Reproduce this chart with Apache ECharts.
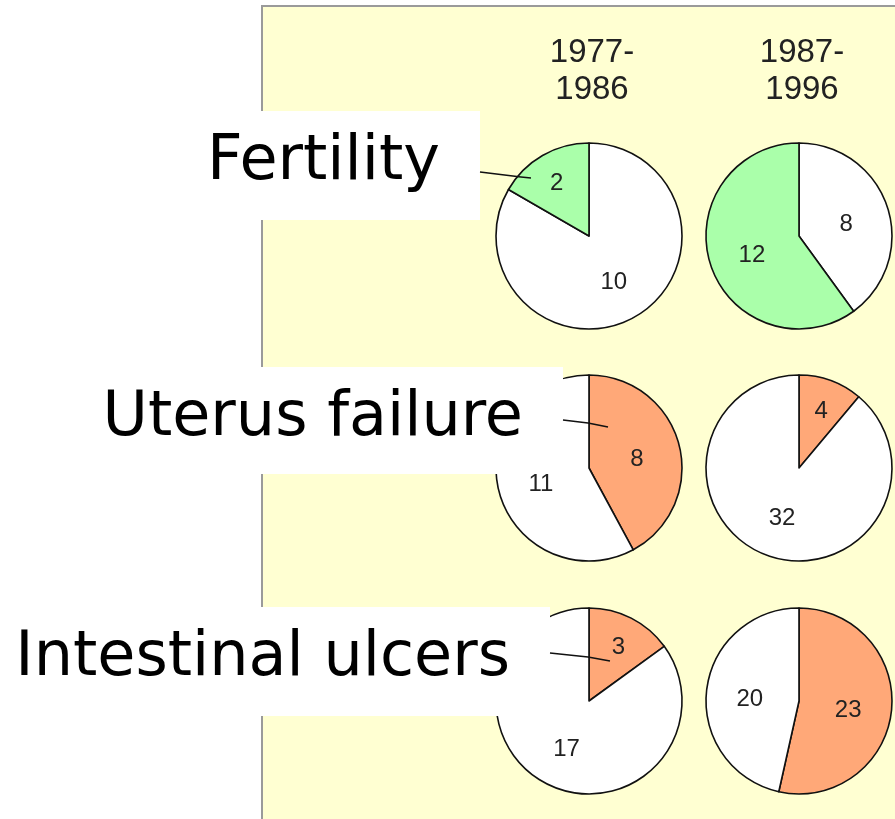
<!DOCTYPE html>
<html style="height: 100%">

<head>
    <meta charset="utf-8">
    <title>Pie grid</title>
</head>

<body style="height: 100%; margin: 0; background: #fff">
    <div id="container" style="width: 895px; height: 819px"></div>
    <script src="https://cdn.jsdelivr.net/npm/echarts@6/dist/echarts.min.js"></script>
    <script type="text/javascript">
        var myChart = echarts.init(document.getElementById('container'));

        // data
        var periods = ['1977-\n1986', '1987-\n1996'];
        var conditions = ['Fertility', 'Uterus failure', 'Intestinal ulcers'];
        var affected = [[2, 12], [8, 4], [3, 23]];
        var unaffected = [[10, 8], [11, 32], [17, 20]];
        var affectedFirst = [false, true, true];
        var rowColors = ['#aaffaa', '#ffa878', '#ffa878'];

        // layout
        var colX = [589, 799];
        var rowY = [236, 468, 701];
        var radius = 93;
        var boxes = [
            { right: 480, top: 111, bottom: 220 },
            { right: 563, top: 367, bottom: 474 },
            { right: 550, top: 607, bottom: 716 }
        ];
        var leaders = [
            [[480, 172], [521, 177], [531, 178]],
            [[563, 420], [588, 423], [608, 427]],
            [[550, 653], [588, 657], [610, 661]]
        ];

        var numFont = { fontFamily: 'Liberation Sans', fontSize: 24, color: '#222', offset: [0, 4] };

        var series = [];
        conditions.forEach(function (name, r) {
            periods.forEach(function (p, c) {
                var total = affected[r][c] + unaffected[r][c];
                var a = { name: 'affected', value: affected[r][c], itemStyle: { color: rowColors[r] } };
                var u = { name: 'other', value: unaffected[r][c], itemStyle: { color: '#ffffff' } };
                var data = affectedFirst[r] ? [a, u] : [u, a];
                var small = function (v) { return v / total < 0.2; };
                // main pie, labels of the larger slices
                series.push({
                    type: 'pie',
                    center: [colX[c], rowY[r]],
                    radius: [0, radius],
                    startAngle: 90,
                    clockwise: true,
                    silent: true,
                    animation: false,
                    itemStyle: { borderColor: '#111', borderWidth: 1.6 },
                    label: Object.assign({
                        show: true, position: 'inside',
                        formatter: function (d) { return small(d.value) ? '' : d.value; }
                    }, numFont),
                    labelLine: { show: false },
                    emphasis: { disabled: true },
                    data: data
                });
                // transparent overlay so labels of small slices sit further out
                series.push({
                    type: 'pie',
                    center: [colX[c], rowY[r]],
                    radius: [0, radius * 1.33],
                    startAngle: 90,
                    clockwise: true,
                    silent: true,
                    animation: false,
                    z: 3,
                    itemStyle: { color: 'rgba(0,0,0,0)', borderWidth: 0 },
                    label: Object.assign({
                        show: true, position: 'inside',
                        formatter: function (d) { return small(d.value) ? d.value : ''; }
                    }, numFont),
                    labelLine: { show: false },
                    emphasis: { disabled: true },
                    data: data.map(function (d) { return { name: d.name, value: d.value }; })
                });
            });
        });

        var graphic = [
            {
                type: 'rect', z: -10, silent: true,
                shape: { x: 262, y: 6, width: 700, height: 900 },
                style: { fill: '#ffffd2', stroke: '#9a9a9a', lineWidth: 2 }
            }
        ];
        periods.forEach(function (p, c) {
            graphic.push({
                type: 'text', z: 5, silent: true,
                x: colX[c] + 3, y: 71,
                style: {
                    text: p, fill: '#222', font: '33px "Liberation Sans"',
                    align: 'center', verticalAlign: 'middle', textAlign: 'center', textVerticalAlign: 'middle',
                    lineHeight: 37
                }
            });
        });
        conditions.forEach(function (name, r) {
            var b = boxes[r];
            graphic.push({
                type: 'rect', z: 50, silent: true,
                shape: { x: 0, y: b.top, width: b.right, height: b.bottom - b.top },
                style: { fill: '#ffffff' }
            });
            graphic.push({
                type: 'text', z: 51, silent: true,
                x: b.right - 40, y: [163, 419, 659][r],
                style: {
                    text: name, fill: '#000', font: '62px "Comic Sans MS", "DejaVu Sans"',
                    align: 'right', verticalAlign: 'middle', textAlign: 'right', textVerticalAlign: 'middle'
                }
            });
            graphic.push({
                type: 'polyline', z: 52, silent: true,
                shape: { points: leaders[r] },
                style: { stroke: '#111', lineWidth: 1.6, fill: null }
            });
        });

        var option = {
            backgroundColor: '#ffffff',
            animation: false,
            graphic: graphic,
            series: series
        };
        myChart.setOption(option);
    </script>
</body>

</html>
